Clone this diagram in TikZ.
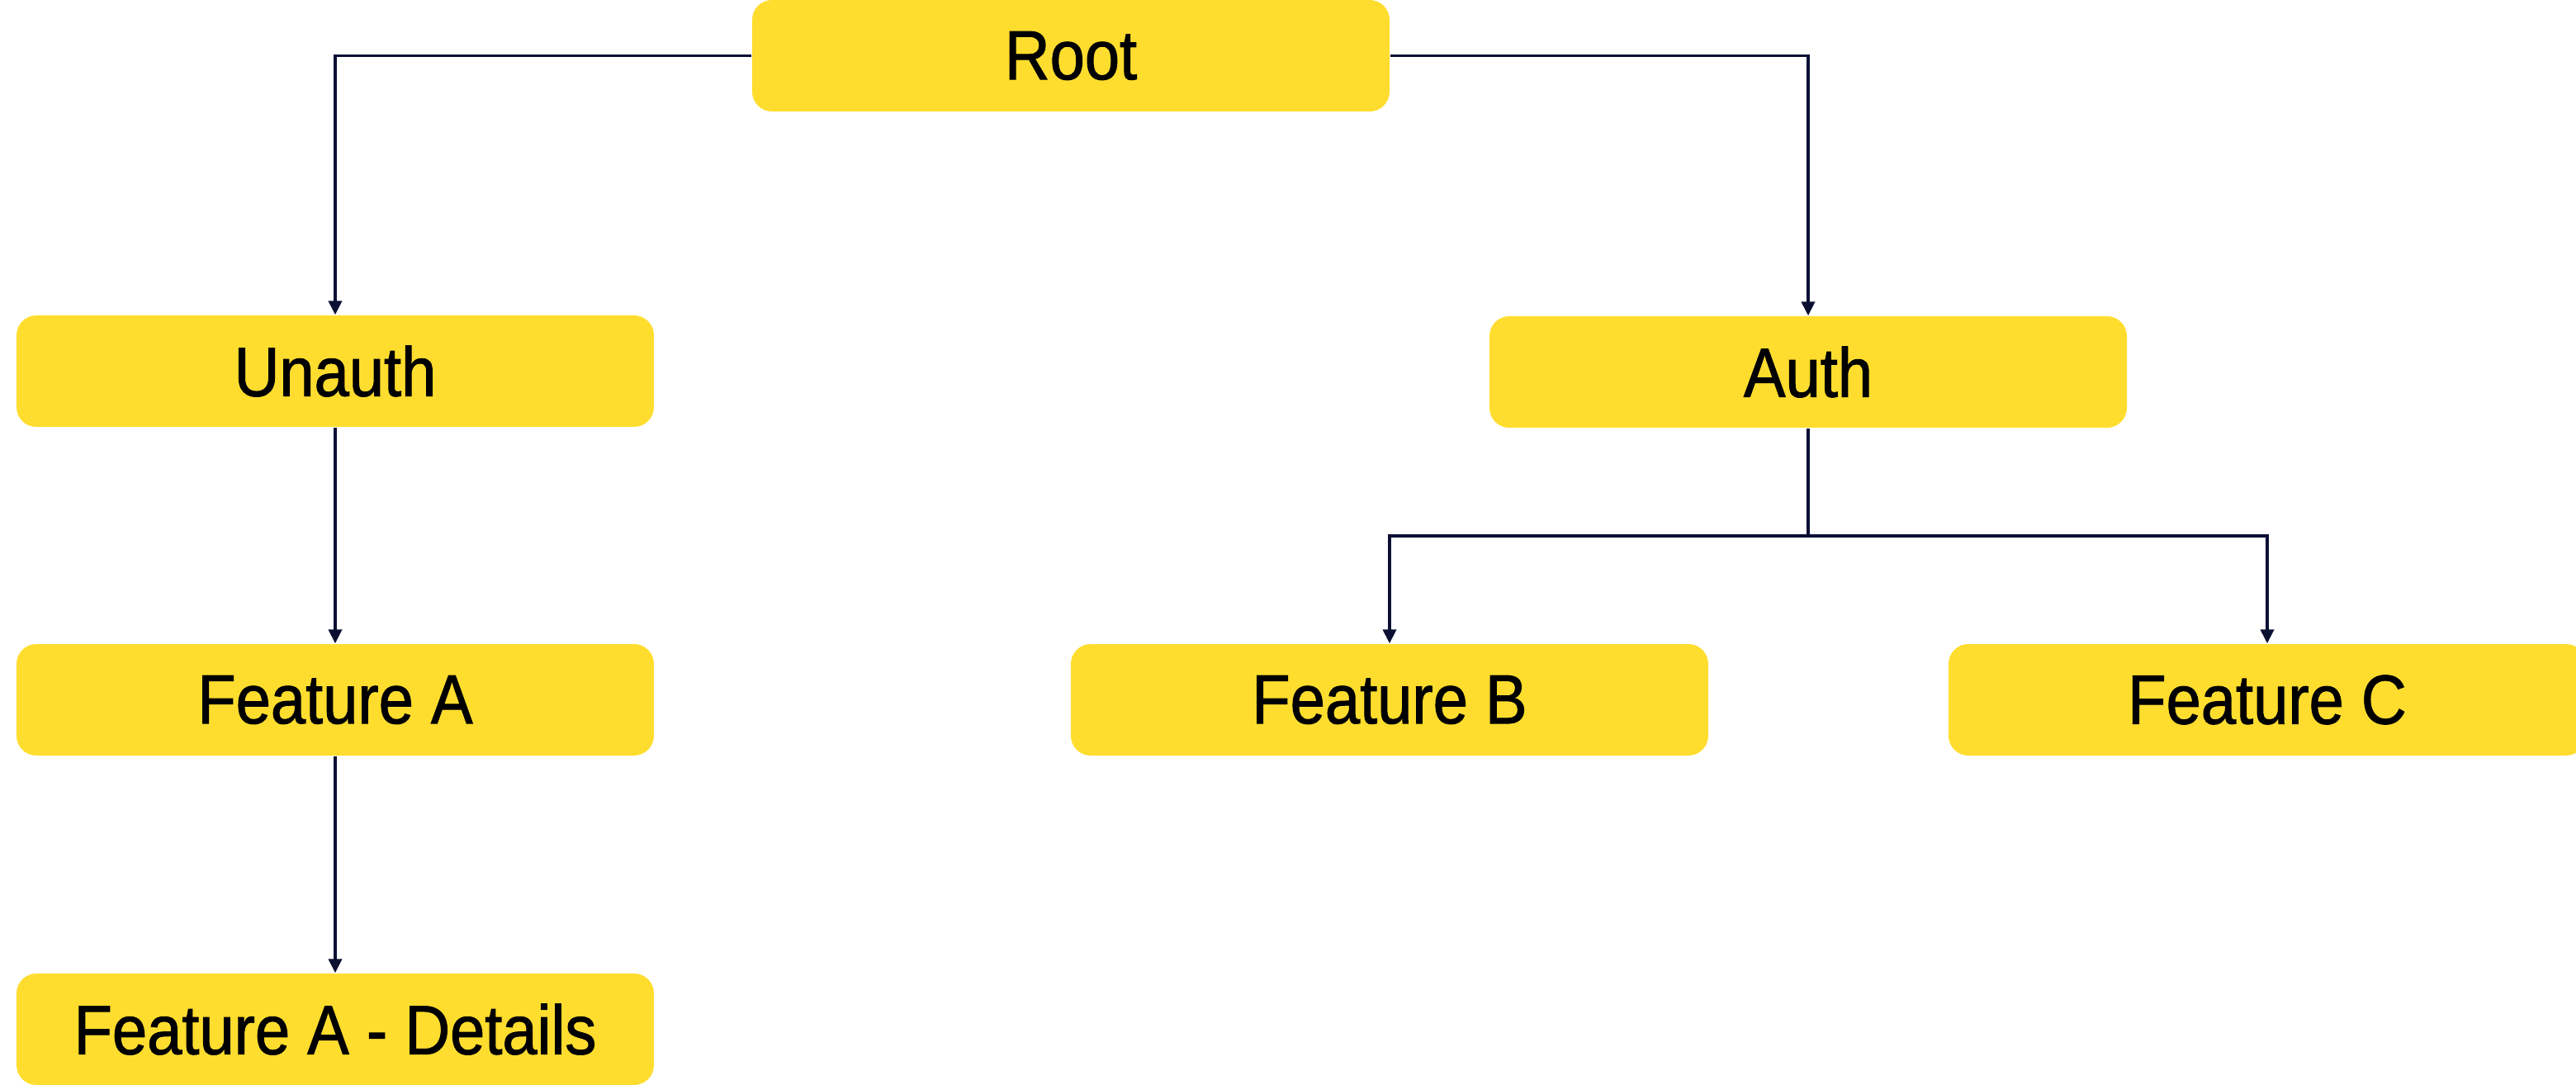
\documentclass[tikz,border=0pt]{standalone}
\usepackage{xcolor}
\usepackage{fontspec}
\setmainfont{Liberation Sans}[FakeStretch=0.9,FakeBold=1.2]
\usepackage{tikz}
\usetikzlibrary{arrows.meta}
\definecolor{boxFill}{HTML}{FFDD2E}
\definecolor{wire}{HTML}{0B1033}
\definecolor{label}{HTML}{000000}
\tikzset{
  treeBox/.style={fill=boxFill, rounded corners=0.24cm, minimum width=7.72cm,
    minimum height=1.35cm, inner sep=0pt, text=label, font=\fontsize{24}{27}\selectfont},
  treeLine/.style={draw=wire, line width=1.1pt},
  treeLink/.style={treeLine, -{Triangle[length=1.7mm,width=1.6mm]}}
}

\begin{document}
\begin{tikzpicture}
  \useasboundingbox (0,0) rectangle (31.2,-13.14);

  % boxes
  \node[treeBox] (root) at (12.97,-0.675) {Root};
  \node[treeBox] (unauth) at (4.06,-4.495) {Unauth};
  \node[treeBox] (auth) at (21.9,-4.505) {Auth};
  \node[treeBox] (featA) at (4.06,-8.475) {Feature A};
  \node[treeBox] (featB) at (16.83,-8.475) {Feature B};
  \node[treeBox] (featC) at (27.46,-8.475) {Feature C};
  \node[treeBox] (featAD) at (4.06,-12.465) {Feature A - Details};

  \coordinate (split) at (21.9,-6.49);

  % connectors
  \draw[treeLink] (root.west) -| (unauth.north);
  \draw[treeLink] (root.east) -| (auth.north);
  \draw[treeLink] (unauth.south) -- (featA.north);
  \draw[treeLink] (featA.south) -- (featAD.north);
  \draw[treeLine] (auth.south) -- (split);
  \draw[treeLink] (split) -| (featB.north);
  \draw[treeLink] (split) -| (featC.north);
\end{tikzpicture}
\end{document}
